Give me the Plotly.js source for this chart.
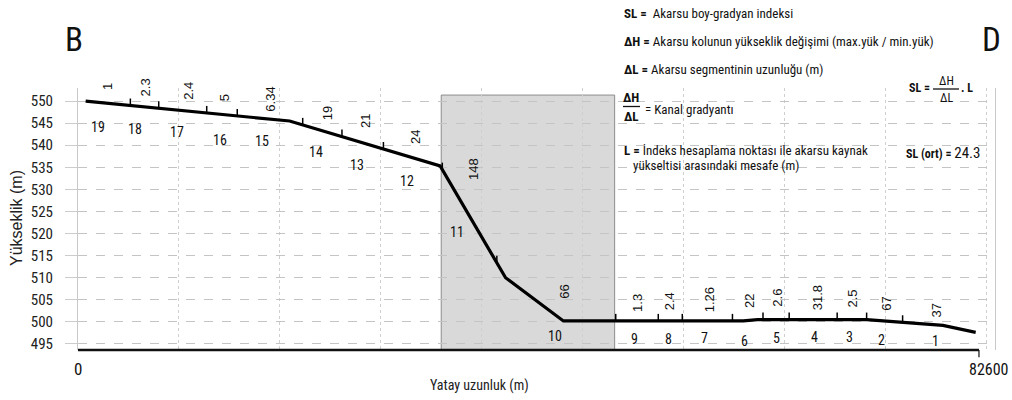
<!DOCTYPE html>
<html><head><meta charset="utf-8">
<script src="https://cdn.plot.ly/plotly-3.0.1.min.js"></script>
<style>html,body{margin:0;padding:0;background:#fff}#chart{width:1012px;height:400px}</style>
</head><body><div id="chart"></div>
<script>
// ---- data ----
const profileDistance = [700, 19400, 33200, 39200, 44500, 61000, 62300, 72300, 79300, 82300];
const profileElevation = [550, 545.5, 535.3, 509.9, 500.1, 500.1, 500.4, 500.4, 499.1, 497.5];
const segmentBounds = [700, 4800, 7400, 11800, 14600, 20600, 24200, 28000, 33400, 38400, 49300,
                       53200, 55400, 60000, 62800, 65200, 69600, 72300, 75600, 82300];
const segmentNumbers = ['19','18','17','16','15','14','13','12','11','10','9','8','7','6','5','4','3','2','1'];
const slValues = ['1','2.3','2.4','5','6.34','19','21','24','148','66','1.3','2.4','1.26','22','2.6','31.8','2.5','67','37'];
const highlightRange = [33300, 49200];
const xTickValues = [0, 82600];
const xTickLabels = ['0', '82600'];
const slMean = '24.3';

// ---- style / placement nudges (pixels) ----
const numNudge = [[-10,15],[-9.5,13],[-6,12],[-2,16],[-8,13],[-6.5,13],[-5.5,14],[-5.5,15],[-12.5,27],[-1.5,11],
                  [-3,8],[-2,8],[-2.5,7],[-3,10],[0,8],[1,7],[-2,7],[-3,9],[-3.5,6]];
const slNudge = [[0,11],[0.5,8.6],[5,9],[2,12],[1,6],[5.5,10],[3.5,14],[2.5,13],[4.5,42],[8.5,20],
                 [1,7],[0,9],[2.5,7],[2,10],[2,11],[4,7],[1,10],[1,8],[-2.5,5]];

const NARROW = '"Roboto Condensed", "DejaVu Sans Condensed", sans-serif';
const REG = '"Liberation Sans", Arial, sans-serif';
const W = 1012, H = 400, ML = 78, MR = 17, MT = 88, MB = 50;
const XR = [0, 84070], YR = [493.5, 553];
const pxPerX = (W - ML - MR) / (XR[1] - XR[0]);

function interp(x) {
  const X = profileDistance, Y = profileElevation;
  if (x <= X[0]) return Y[0];
  for (let i = 0; i < X.length - 1; i++) {
    if (x <= X[i + 1]) return Y[i] + (Y[i + 1] - Y[i]) * (x - X[i]) / (X[i + 1] - X[i]);
  }
  return Y[Y.length - 1];
}
const px = p => (p - ML) / (W - ML - MR);
const py = p => (H - MB - p) / (H - MT - MB);

const shapes = [];
const annotations = [];

// shaded zone
shapes.push({type: 'rect', xref: 'x', yref: 'y', x0: highlightRange[0], x1: highlightRange[1],
  y0: YR[0], y1: 551.4, fillcolor: '#d9d9d9', line: {color: '#8c8c8c', width: 1}, layer: 'below'});

// segment boundary ticks
for (let i = 1; i < segmentBounds.length - 1; i++) {
  const b = segmentBounds[i], e = interp(b);
  shapes.push({type: 'line', xref: 'x', yref: 'y', x0: b, x1: b, y0: e, y1: e + 1.6,
    line: {color: '#000', width: 1.5}});
}

// bottom axis line and end tick
shapes.push({type: 'line', xref: 'x', yref: 'paper', x0: 0, x1: xTickValues[1], y0: 0, y1: 0,
  line: {color: '#111', width: 2.5}});
shapes.push({type: 'line', xref: 'x', yref: 'paper', x0: xTickValues[1], x1: xTickValues[1], y0: 0, y1: -0.028,
  line: {color: '#111', width: 1.2}});

// segment labels
for (let i = 0; i < segmentNumbers.length; i++) {
  const mid = (segmentBounds[i] + segmentBounds[i + 1]) / 2;
  const xn = mid + numNudge[i][0] / pxPerX;
  annotations.push({x: xn, y: interp(xn), xref: 'x', yref: 'y', text: segmentNumbers[i], showarrow: false,
    xanchor: 'center', yanchor: 'top', yshift: -numNudge[i][1], font: {family: NARROW, size: 14, color: '#111'}});
  const xs = mid + slNudge[i][0] / pxPerX;
  annotations.push({x: xs, y: interp(xs), xref: 'x', yref: 'y', text: slValues[i], showarrow: false,
    textangle: -90, xanchor: 'center', yanchor: 'bottom', yshift: slNudge[i][1],
    font: {family: REG, size: 13, color: '#111'}});
}

// x tick labels
annotations.push({x: xTickValues[0], y: py(369), xref: 'x', yref: 'paper', text: xTickLabels[0], showarrow: false,
  xanchor: 'center', yanchor: 'middle', font: {family: NARROW, size: 17, color: '#111'}});
annotations.push({x: px(1011), y: py(369), xref: 'paper', yref: 'paper', text: xTickLabels[1], showarrow: false,
  xanchor: 'right', yanchor: 'middle', font: {family: NARROW, size: 16, color: '#111'}});

// axis titles
annotations.push({x: px(479), y: py(385), xref: 'paper', yref: 'paper', text: 'Yatay uzunluk (m)', showarrow: false,
  xanchor: 'center', yanchor: 'middle', font: {family: NARROW, size: 14, color: '#222'}});
annotations.push({x: px(16), y: py(218), xref: 'paper', yref: 'paper', text: 'Yükseklik (m)', showarrow: false,
  textangle: -90, xanchor: 'center', yanchor: 'middle', font: {family: REG, size: 16, color: '#222'}});

// B / D
annotations.push({x: px(73.5), y: py(40), xref: 'paper', yref: 'paper', text: 'B', showarrow: false,
  xanchor: 'center', yanchor: 'middle', font: {family: NARROW, size: 33, color: '#111'}});
annotations.push({x: px(991.5), y: py(40), xref: 'paper', yref: 'paper', text: 'D', showarrow: false,
  xanchor: 'center', yanchor: 'middle', font: {family: NARROW, size: 33, color: '#111'}});

// legend block
const lf = {family: NARROW, size: 13, color: '#111'};
function leftText(t, x, y, f) {
  annotations.push({x: px(x), y: py(y), xref: 'paper', yref: 'paper', text: t, showarrow: false,
    xanchor: 'left', yanchor: 'middle', font: f || lf});
}
function centerText(t, x, y, f) {
  annotations.push({x: px(x), y: py(y), xref: 'paper', yref: 'paper', text: t, showarrow: false,
    xanchor: 'center', yanchor: 'middle', font: f || lf});
}
function bar(x0, x1, y) {
  shapes.push({type: 'line', xref: 'paper', yref: 'paper', x0: px(x0), x1: px(x1), y0: py(y), y1: py(y),
    line: {color: '#111', width: 1.3}});
}
leftText('<b>SL =</b>  Akarsu boy-gradyan indeksi', 622, 13.5);
leftText('<b>ΔH =</b> Akarsu kolunun yükseklik değişimi (max.yük / min.yük)', 622, 41.5);
leftText('<b>ΔL =</b> Akarsu segmentinin uzunluğu (m)', 622, 69);
centerText('<b>ΔH</b>', 631, 97.5);
bar(623, 640, 106.5);
centerText('<b>ΔL</b>', 631, 116.5);
leftText('= Kanal gradyantı', 643, 109);
leftText('<b>L =</b> İndeks hesaplama noktası ile akarsu kaynak', 622, 150);
leftText('yükseltisi arasındaki mesafe (m)', 631, 165);

// formula on the right
const sf = {family: NARROW, size: 12, color: '#111'};
centerText('<b>SL =</b>', 919, 88, sf);
centerText('ΔH', 946, 80.5, sf);
bar(933, 959, 89);
centerText('ΔL', 946, 97.5, sf);
leftText('<b>. L</b>', 959, 88, sf);
leftText('<b>SL (ort) =</b> <span style="font-size:15px">' + slMean + '</span>', 904, 152.5, sf);

const trace = {x: profileDistance, y: profileElevation, type: 'scatter', mode: 'lines',
  line: {color: '#000', width: 3.2}, hoverinfo: 'skip'};

const layout = {
  width: W, height: H,
  margin: {l: ML, r: MR, t: MT, b: MB, pad: 0},
  paper_bgcolor: '#fff', plot_bgcolor: '#fff',
  showlegend: false,
  xaxis: {range: XR, showgrid: true, gridcolor: '#cfcfcf', griddash: 'dot', gridwidth: 1,
    tick0: 0, dtick: 9250, showticklabels: false, ticks: '', zeroline: false, showline: false},
  yaxis: {range: YR, showgrid: true, gridcolor: '#c4c4c4', griddash: 'dash', gridwidth: 1,
    tick0: 495, dtick: 5, ticks: 'outside', ticklen: 12, tickcolor: '#cccccc', zeroline: false,
    showline: true, linecolor: '#c8c8c8', mirror: true, ticklabelstandoff: 9,
    tickfont: {family: NARROW, size: 15, color: '#222'}},
  shapes: shapes,
  annotations: annotations
};

Plotly.newPlot('chart', [trace], layout, {staticPlot: true, displayModeBar: false});
</script>
</body></html>
